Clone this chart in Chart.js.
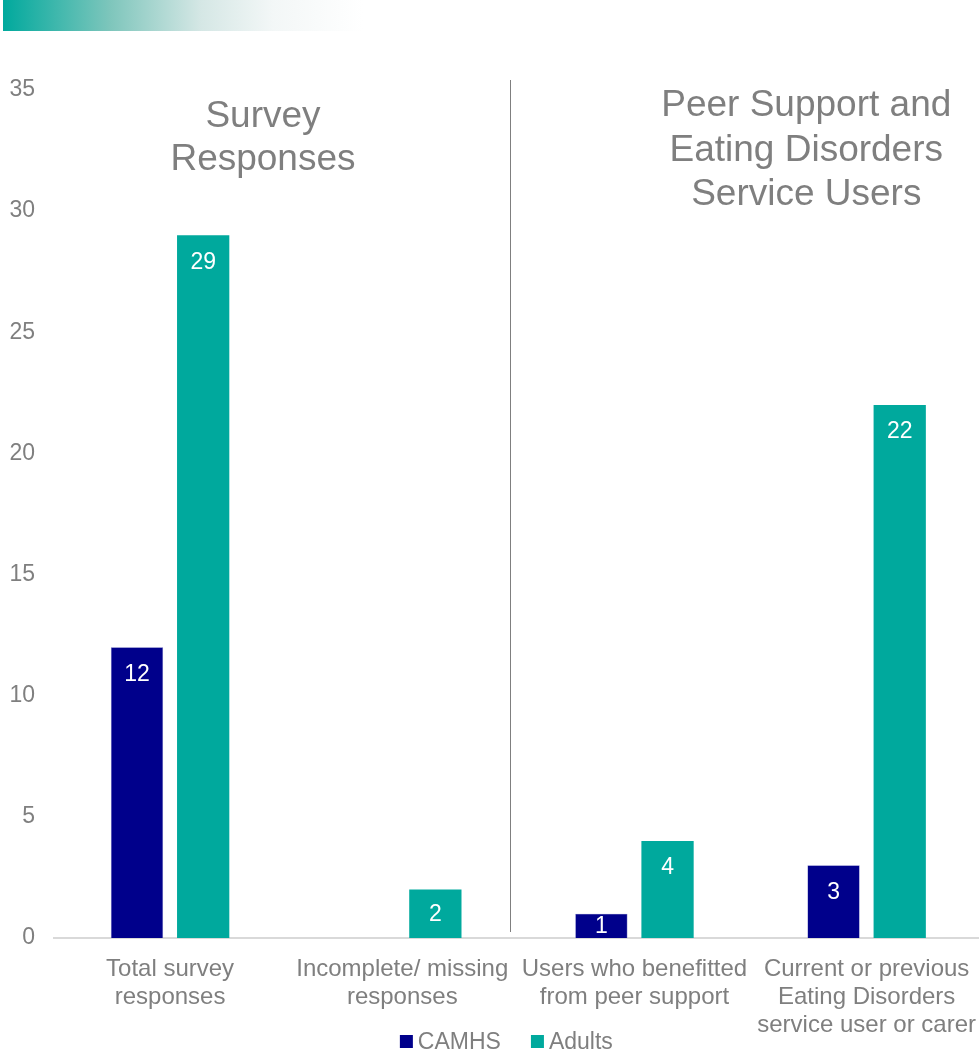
<!DOCTYPE html>
<html lang="en">
<head>
  <meta charset="UTF-8" />
  <title>Survey responses</title>
  <script src="https://cdn.jsdelivr.net/npm/chart.js"></script>
  <style>
    *{margin:0;padding:0;box-sizing:border-box}
    html,body{width:979px;height:1051px;overflow:hidden;background:#fff;font-family:"Liberation Sans",Arial,sans-serif}
    .band{position:absolute;left:3px;top:0;width:360px;height:31px;
      background:linear-gradient(to right,#00a99d 0%,#7fc6bc 30%,#d5e7e5 55%,#f3f7f7 75%,#fff 100%)}
    .wrap{position:absolute;left:0;top:0;width:985px;height:1051px}
  </style>
</head>
<body>
  <div class="band"></div>
  <div class="wrap"><canvas id="chart"></canvas></div>

  <script>
    const categories = [
      ['Total survey', 'responses'],
      ['Incomplete/ missing', 'responses'],
      ['Users who benefitted', 'from peer support'],
      ['Current or previous', 'Eating Disorders', 'service user or carer']
    ];
    const camhs = [12, 0, 1, 3];
    const adults = [29, 2, 4, 22];
    const yTicks = [0, 5, 10, 15, 20, 25, 30, 35];

    const grey = '#7f7f7f';
    const font = '"Liberation Sans", Arial, sans-serif';

    // white value labels just inside the top of each bar
    const valueLabels = {
      id: 'valueLabels',
      afterDatasetsDraw(chart) {
        const ctx = chart.ctx;
        ctx.save();
        ctx.fillStyle = '#fff';
        ctx.font = '23px ' + font;
        ctx.textAlign = 'center';
        ctx.textBaseline = 'middle';
        chart.data.datasets.forEach((ds, i) => {
          chart.getDatasetMeta(i).data.forEach((bar, j) => {
            const v = ds.data[j];
            if (!v) return;
            const h = bar.base - bar.y;
            const y = h < 50 ? bar.y + h / 2 + 1 : bar.y + 27;
            ctx.fillText(String(v), bar.x, y);
          });
        });
        ctx.restore();
      }
    };

    // section headings, the divider between the two groups, and the legend
    const sections = {
      id: 'sections',
      afterDraw(chart) {
        const ctx = chart.ctx;
        const x = chart.scales.x;
        const { top, bottom, left, right } = chart.chartArea;
        ctx.save();
        ctx.strokeStyle = grey;
        ctx.lineWidth = 1;
        const dx = Math.round(x.getPixelForValue(1.465)) + 0.5;
        ctx.beginPath();
        ctx.moveTo(dx, top - 10);
        ctx.lineTo(dx, bottom - 6);
        ctx.stroke();

        ctx.fillStyle = grey;
        ctx.font = '37px ' + font;
        ctx.textAlign = 'center';
        ctx.textBaseline = 'middle';
        const lx = x.getPixelForValue(0.4);
        ['Survey', 'Responses'].forEach((t, i) => ctx.fillText(t, lx, top + 27 + i * 43));
        const rx = x.getPixelForValue(2.74);
        ['Peer Support and', 'Eating Disorders', 'Service Users'].forEach((t, i) => ctx.fillText(t, rx, top + 16 + i * 44.5));

        // legend
        ctx.font = '23px ' + font;
        ctx.textAlign = 'left';
        const items = chart.data.datasets.map(ds => ({ label: ds.label, color: ds.backgroundColor, w: ctx.measureText(ds.label).width }));
        const box = 13, gap = 5, sep = 30;
        const total = items.reduce((s, it) => s + box + gap + it.w, 0) + sep * (items.length - 1);
        let cx = (left + right) / 2 - 12 - total / 2;
        const ly = 1042;
        items.forEach(it => {
          ctx.fillStyle = it.color;
          ctx.fillRect(cx, ly - 7, box, box);
          ctx.fillStyle = grey;
          ctx.fillText(it.label, cx + box + gap, ly + 1);
          cx += box + gap + it.w + sep;
        });
        ctx.restore();
      }
    };

    new Chart(document.getElementById('chart'), {
      type: 'bar',
      data: {
        labels: categories,
        datasets: [
          { label: 'CAMHS', data: camhs, backgroundColor: '#00008b', borderColor: '#6b6bc0', borderWidth: 0.6 },
          { label: 'Adults', data: adults, backgroundColor: '#00a99d' }
        ]
      },
      options: {
        responsive: true,
        maintainAspectRatio: false,
        animation: false,
        datasets: { bar: { categoryPercentage: 0.57, barPercentage: 0.79 } },
        layout: { padding: { top: 90, bottom: 0, left: 0, right: 0 } },
        plugins: {
          legend: { display: false },
          tooltip: { enabled: false }
        },
        scales: {
          x: {
            grid: { display: false },
            border: { color: '#d9d9d9', width: 2 },
            ticks: {
              color: grey, font: { size: 24, family: font, lineHeight: 1.17 },
              maxRotation: 0, autoSkip: false, padding: 9
            },
            afterFit(s) { s.height = 113; }
          },
          y: {
            min: 0, max: 35,
            grid: { display: false },
            border: { display: false },
            afterBuildTicks(s) { s.ticks = yTicks.map(v => ({ value: v })); },
            ticks: { color: grey, font: { size: 23, family: font }, padding: 11 },
            afterFit(s) { s.width = 54; }
          }
        }
      },
      plugins: [valueLabels, sections]
    });
  </script>
</body>
</html>
